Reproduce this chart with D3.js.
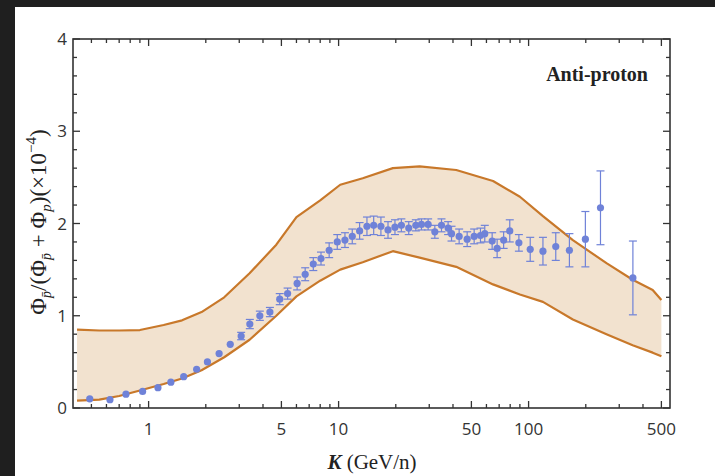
<!DOCTYPE html>
<html><head><meta charset="utf-8">
<script src="https://cdn.jsdelivr.net/npm/d3@7"></script>
<style>
html,body{margin:0;padding:0;background:#1f1f1f;}
svg{display:block;}
</style></head>
<body>
<svg id="c" width="715" height="476"></svg>
<script>
// Band (model range)
const bandK     = [0.42,0.55,0.7,0.9,1.2,1.5,1.9,2.5,3.4,4.7,6.0,8.0,10.2,13.4,19.3,26.7,41.6,65,90,119,171,257,353,450,500];
const bandUpper = [0.85,0.84,0.84,0.845,0.90,0.95,1.04,1.20,1.46,1.77,2.07,2.25,2.42,2.49,2.60,2.62,2.58,2.46,2.29,2.08,1.82,1.57,1.39,1.28,1.17];
const bandLower = [0.08,0.09,0.13,0.19,0.26,0.32,0.41,0.55,0.74,1.00,1.21,1.38,1.50,1.58,1.70,1.63,1.53,1.34,1.23,1.15,0.96,0.80,0.68,0.60,0.56];

// Data points (AMS-02 anti-proton ratio)
const dataK   = [0.49,0.626,0.76,0.93,1.12,1.31,1.53,1.79,2.04,2.35,2.69,3.07,3.41,3.85,4.35,4.9,5.39,6.05,6.67,7.36,8.08,8.92,9.84,10.8,11.8,12.9,14.1,15.3,16.7,18.2,19.8,21.4,23.4,25.5,27.3,29.6,32.1,34.8,37.7,39.3,43.1,47.5,51.7,55.8,58.8,64.3,68.3,73.9,79.6,88.9,102,119,139,164,199,239,354];
const dataVal = [0.10,0.09,0.15,0.18,0.22,0.28,0.34,0.42,0.50,0.59,0.69,0.78,0.91,1.00,1.04,1.18,1.24,1.35,1.45,1.56,1.62,1.71,1.80,1.82,1.86,1.92,1.97,1.98,1.97,1.93,1.96,1.98,1.95,1.98,1.99,1.99,1.91,1.98,1.95,1.89,1.86,1.83,1.86,1.87,1.89,1.81,1.73,1.82,1.92,1.79,1.72,1.70,1.75,1.71,1.83,2.17,1.41];
const dataErr = [0.02,0.02,0.02,0.02,0.02,0.02,0.02,0.02,0.03,0.03,0.03,0.04,0.05,0.05,0.05,0.06,0.06,0.07,0.07,0.07,0.07,0.08,0.08,0.08,0.08,0.09,0.10,0.10,0.10,0.09,0.08,0.07,0.07,0.06,0.06,0.06,0.07,0.07,0.07,0.08,0.08,0.08,0.08,0.08,0.09,0.09,0.10,0.09,0.12,0.09,0.13,0.15,0.15,0.18,0.30,0.40,0.40];

const xMajor = [1,5,10,50,100,500];
const xMinor = [0.5,0.6,0.7,0.8,0.9,2,3,4,6,7,8,9,20,30,40,60,70,80,90,200,300,400];
const yMajor = [0,1,2,3,4];
const yMinor = [0.2,0.4,0.6,0.8,1.2,1.4,1.6,1.8,2.2,2.4,2.6,2.8,3.2,3.4,3.6,3.8];

const svg = d3.select("#c");
svg.append("rect").attr("x",15).attr("y",7).attr("width",700).attr("height",469).attr("fill","#fff");

const L=73, R=670, T=39, B=408;
const x = d3.scaleLog().domain([0.4,555]).range([L,R]);
const y = d3.scaleLinear().domain([0,4]).range([B,T]);

const band = bandK.map((k,i)=>({k, lo:bandLower[i], hi:bandUpper[i]}));
svg.append("path").datum(band)
  .attr("d", d3.area().x(d=>x(d.k)).y0(d=>y(d.lo)).y1(d=>y(d.hi)))
  .attr("fill","#f2e2cf");
const lineStyle = p => p.attr("fill","none").attr("stroke","#c8782a").attr("stroke-width",2.2).attr("stroke-linejoin","round");
svg.append("path").datum(band).attr("d", d3.line().x(d=>x(d.k)).y(d=>y(d.hi))).call(lineStyle);
svg.append("path").datum(band).attr("d", d3.line().x(d=>x(d.k)).y(d=>y(d.lo))).call(lineStyle);

// data
const pts = dataK.map((k,i)=>({k, v:dataVal[i], e:dataErr[i]}));
const col = "#6f82d8";
const g = svg.append("g");
pts.forEach(d=>{
  const cx=x(d.k), yt=y(d.v+d.e), yb=y(d.v-d.e);
  g.append("line").attr("x1",cx).attr("x2",cx).attr("y1",yt).attr("y2",yb).attr("stroke",col).attr("stroke-width",1.2);
  if (d.e>0.035){
    g.append("line").attr("x1",cx-4).attr("x2",cx+4).attr("y1",yt).attr("y2",yt).attr("stroke",col).attr("stroke-width",1.2);
    g.append("line").attr("x1",cx-4).attr("x2",cx+4).attr("y1",yb).attr("y2",yb).attr("stroke",col).attr("stroke-width",1.2);
  }
  g.append("circle").attr("cx",cx).attr("cy",y(d.v)).attr("r",3.6).attr("fill",col);
});

// frame
svg.append("rect").attr("x",L).attr("y",T).attr("width",R-L).attr("height",B-T)
  .attr("fill","none").attr("stroke","#333").attr("stroke-width",1.6);

// ticks
const tk = svg.append("g").attr("stroke","#333").attr("stroke-width",1.3);
xMajor.forEach(v=>{
  tk.append("line").attr("x1",x(v)).attr("x2",x(v)).attr("y1",B).attr("y2",B-7);
  tk.append("line").attr("x1",x(v)).attr("x2",x(v)).attr("y1",T).attr("y2",T+7);
});
xMinor.forEach(v=>{
  tk.append("line").attr("x1",x(v)).attr("x2",x(v)).attr("y1",B).attr("y2",B-4);
  tk.append("line").attr("x1",x(v)).attr("x2",x(v)).attr("y1",T).attr("y2",T+4);
});
yMajor.forEach(v=>{
  tk.append("line").attr("x1",L).attr("x2",L+7).attr("y1",y(v)).attr("y2",y(v));
  tk.append("line").attr("x1",R).attr("x2",R-7).attr("y1",y(v)).attr("y2",y(v));
});
yMinor.forEach(v=>{
  tk.append("line").attr("x1",L).attr("x2",L+4).attr("y1",y(v)).attr("y2",y(v));
  tk.append("line").attr("x1",R).attr("x2",R-4).attr("y1",y(v)).attr("y2",y(v));
});

// tick labels
const lf = "'Open Sans', 'DejaVu Sans', sans-serif";
xMajor.forEach(v=>{
  svg.append("text").attr("x",x(v)).attr("y",435).attr("text-anchor","middle")
    .attr("font-family",lf).attr("font-size",17).attr("fill","#333").text(d3.format("d")(v));
});
yMajor.forEach(v=>{
  svg.append("text").attr("x",67).attr("y",y(v)+6).attr("text-anchor","end")
    .attr("font-family",lf).attr("font-size",17).attr("fill","#333").text(v);
});

// axis titles
const sf = "'Liberation Serif','DejaVu Serif',serif";
const xt = svg.append("text").attr("x",372).attr("y",469).attr("text-anchor","middle")
  .attr("font-family",sf).attr("font-size",21).attr("fill","#222");
xt.append("tspan").attr("font-style","italic").attr("font-weight","bold").text("K");
xt.append("tspan").text(" (GeV/n)");

const yt = svg.append("text").attr("transform","translate(46,222) rotate(-90)")
  .attr("text-anchor","middle").attr("font-family",sf).attr("font-size",23).attr("fill","#222");
yt.append("tspan").text("Φ");
yt.append("tspan").attr("font-style","italic").attr("font-size",14).attr("dy",5).text("p\u0304");
yt.append("tspan").attr("dy",-5).text("/(Φ");
yt.append("tspan").attr("font-style","italic").attr("font-size",14).attr("dy",5).text("p\u0304");
yt.append("tspan").attr("dy",-5).text(" + Φ");
yt.append("tspan").attr("font-style","italic").attr("font-size",15).attr("dy",5).text("p");
yt.append("tspan").attr("dy",-5).text(")(×10");
yt.append("tspan").attr("font-size",15).attr("dy",-10).text("−4");
yt.append("tspan").attr("dy",10).text(")");

svg.append("text").attr("x",648).attr("y",81).attr("text-anchor","end")
  .attr("font-family",sf).attr("font-weight","bold").attr("font-size",20).attr("fill","#222").text("Anti-proton");
</script>
</body></html>
